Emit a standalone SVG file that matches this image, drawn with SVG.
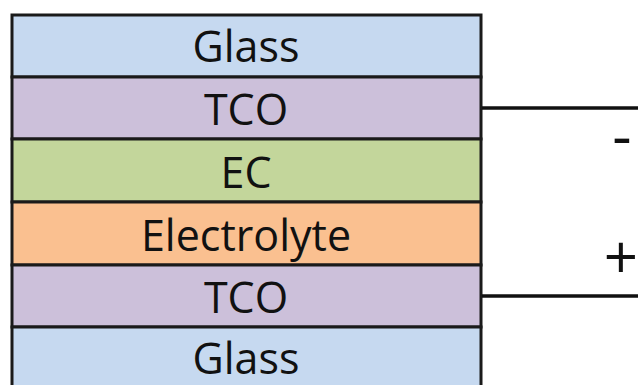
<svg xmlns="http://www.w3.org/2000/svg" width="638" height="385" viewBox="0 0 638 385">
<style>
.l{stroke:#1a1a1a;stroke-width:3}
.t{font-family:"Open Sans","Liberation Sans",sans-serif;font-size:43px;fill:#111;text-anchor:middle}
.s{font-family:"Open Sans","Liberation Sans",sans-serif;font-size:60px;fill:#111;text-anchor:middle}
.w{stroke:#111;stroke-width:3.5;fill:none}
</style>
<rect width="638" height="385" fill="#fff"/>
<g id="glass-top"><rect class="l" x="12" y="15" width="469" height="62" fill="#c6d9f0"/><text class="t" x="246" y="62">Glass</text></g>
<g id="tco-top"><rect class="l" x="12" y="77" width="469" height="62" fill="#ccc0da"/><text class="t" x="246" y="125">TCO</text></g>
<g id="ec"><rect class="l" x="12" y="139" width="469" height="63" fill="#c3d69b"/><text class="t" x="246" y="188">EC</text></g>
<g id="electrolyte"><rect class="l" x="12" y="202" width="469" height="63" fill="#fac090"/><text class="t" x="246" y="251">Electrolyte</text></g>
<g id="tco-bottom"><rect class="l" x="12" y="265" width="469" height="62" fill="#ccc0da"/><text class="t" x="246" y="313">TCO</text></g>
<g id="glass-bottom"><rect class="l" x="12" y="327" width="469" height="70" fill="#c6d9f0"/><text class="t" x="246" y="374">Glass</text></g>
<g id="connectors">
<line class="w" x1="482" y1="108" x2="638" y2="108"/>
<line class="w" x1="482" y1="296" x2="638" y2="296"/>
</g>
<g id="signs">
<text class="s" x="622" y="157">-</text>
<text class="s" x="621" y="279">+</text>
</g>
</svg>
